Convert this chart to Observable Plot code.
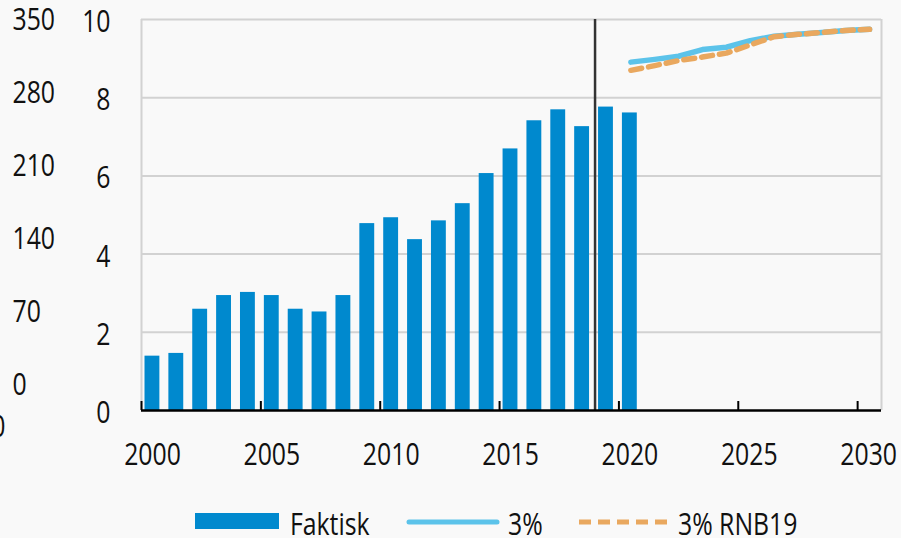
<!DOCTYPE html>
<html>
<head>
<meta charset="utf-8">
<script src="https://cdn.jsdelivr.net/npm/d3@7"></script>
<script src="https://cdn.jsdelivr.net/npm/@observablehq/plot@0.6"></script>
<style>
  html, body { margin: 0; padding: 0; background: #f9f9f9; }
  #wrap { position: relative; width: 901px; height: 538px; overflow: hidden; background: #f9f9f9; }
  #legend { position: absolute; left: 0; top: 495px; }
  svg { display: block; }
</style>
</head>
<body>
<div id="wrap"></div>
<script>
const FONT = "'Open Sans', 'Noto Sans', sans-serif";
const SX = 0.8; // horizontal squeeze of the reference lettering

// Faktisk (bars)
const barYears = [2000,2001,2002,2003,2004,2005,2006,2007,2008,2009,2010,2011,2012,2013,2014,2015,2016,2017,2018,2019,2020];
const barValues = [1.39,1.46,2.59,2.94,3.02,2.94,2.59,2.52,2.94,4.78,4.93,4.37,4.85,5.29,6.06,6.69,7.41,7.69,7.26,7.76,7.61];

// Projections
const lineYears = [2020,2021,2022,2023,2024,2025,2026,2027,2028,2029,2030];
const line3 = [8.91,8.98,9.06,9.23,9.29,9.46,9.57,9.62,9.67,9.72,9.75];
const line3RNB19 = [8.70,8.82,8.95,9.04,9.14,9.35,9.56,9.62,9.67,9.72,9.75];

// Axis ticks
const yTicks = [0,2,4,6,8,10];
const xTicks = [2000,2005,2010,2015,2020,2025,2030];
const outerTicks = [350,280,210,140,70,0];
const strayLabels = ["0"];
const splitYear = 2019;

const bars = barYears.map((year, i) => ({year, value: barValues[i]}));
const s1 = lineYears.map((year, i) => ({year, value: line3[i]}));
const s2 = lineYears.map((year, i) => ({year, value: line3RNB19[i]}));

const BLUE = "#0089ce", LIGHT = "#5cc3ea", ORANGE = "#e9a85f";

const chart = Plot.plot({
  width: 901,
  height: 495,
  marginLeft: 141,
  marginRight: 20,
  marginTop: 19,
  marginBottom: 85,
  style: {background: "#f9f9f9", fontFamily: FONT, color: "#111"},
  x: {domain: [2000, 2031]},
  y: {domain: [0, 10]},
  marks: [
    Plot.ruleY(yTicks.filter(d => d > 0), {stroke: "#d2d2d2", strokeWidth: 2}),
    Plot.ruleX([2000, 2031], {stroke: "#d2d2d2", strokeWidth: 2}),
    Plot.rectY(bars, {x: "year", interval: 1, y: "value", fill: BLUE, insetLeft: 3.5, insetRight: 5.5}),
    Plot.ruleX([splitYear], {stroke: "#333", strokeWidth: 2.5}),
    Plot.line(s1, {x: d => d.year + 0.5, y: "value", stroke: LIGHT, strokeWidth: 5.5, strokeLinecap: "round"}),
    Plot.line(s2, {x: d => d.year + 0.5, y: "value", stroke: ORANGE, strokeWidth: 5.5, strokeDasharray: "11,7"}),
    Plot.ruleY([0], {stroke: "#000", strokeWidth: 2.5}),
    Plot.ruleX(xTicks, {y1: 0, y2: 0.23, stroke: "#000", strokeWidth: 2}),
    Plot.axisX({ticks: xTicks, tickSize: 0, tickPadding: 32, tickFormat: d => String(d), fontSize: 31, dx: 11, label: null}),
    Plot.axisY({ticks: yTicks, tickSize: 0, tickPadding: 31, fontSize: 31, dy: 2.5, label: null}),
    Plot.text(outerTicks, {y: d => 0.639 + d * (9.335 / 350), text: d => String(d), frameAnchor: "left", dx: -129, textAnchor: "start", fontSize: 31, fill: "#111"}),
    Plot.text(strayLabels, {y: -0.435, text: d => d, frameAnchor: "left", dx: -136, textAnchor: "end", fontSize: 31, fill: "#111"})
  ]
});

const wrap = document.getElementById("wrap");
wrap.appendChild(chart);

// Legend below the chart
const legendItems = [
  {label: "Faktisk", type: "bar", color: BLUE, x: 195, tx: 290},
  {label: "3%", type: "line", color: LIGHT, x: 409, tx: 508},
  {label: "3% RNB19", type: "dash", color: ORANGE, x: 579, tx: 678}
];
const ns = "http://www.w3.org/2000/svg";
const lg = document.createElementNS(ns, "svg");
lg.setAttribute("id", "legend");
lg.setAttribute("width", 901);
lg.setAttribute("height", 43);
for (const it of legendItems) {
  if (it.type === "bar") {
    const r = document.createElementNS(ns, "rect");
    r.setAttribute("x", it.x); r.setAttribute("y", 18);
    r.setAttribute("width", 84); r.setAttribute("height", 16);
    r.setAttribute("fill", it.color);
    lg.appendChild(r);
  } else {
    const l = document.createElementNS(ns, "line");
    l.setAttribute("x1", it.x); l.setAttribute("x2", it.x + 88);
    l.setAttribute("y1", 27); l.setAttribute("y2", 27);
    l.setAttribute("stroke", it.color); l.setAttribute("stroke-width", 5);
    if (it.type === "dash") l.setAttribute("stroke-dasharray", "12,7");
    else l.setAttribute("stroke-linecap", "round");
    lg.appendChild(l);
  }
  const t = document.createElementNS(ns, "text");
  t.setAttribute("x", it.tx); t.setAttribute("y", 40);
  t.setAttribute("font-family", FONT);
  t.setAttribute("font-size", 31);
  t.setAttribute("fill", "#111");
  t.textContent = it.label;
  lg.appendChild(t);
}
wrap.appendChild(lg);

// Squeeze every text horizontally around its own anchor point
for (const t of wrap.querySelectorAll("text")) {
  let x = parseFloat(t.getAttribute("x"));
  if (!isFinite(x)) x = 0;
  const tr = t.getAttribute("transform") || "";
  t.setAttribute("transform", `${tr} translate(${x},0) scale(${SX},1) translate(${-x},0)`.trim());
}
</script>
</body>
</html>
